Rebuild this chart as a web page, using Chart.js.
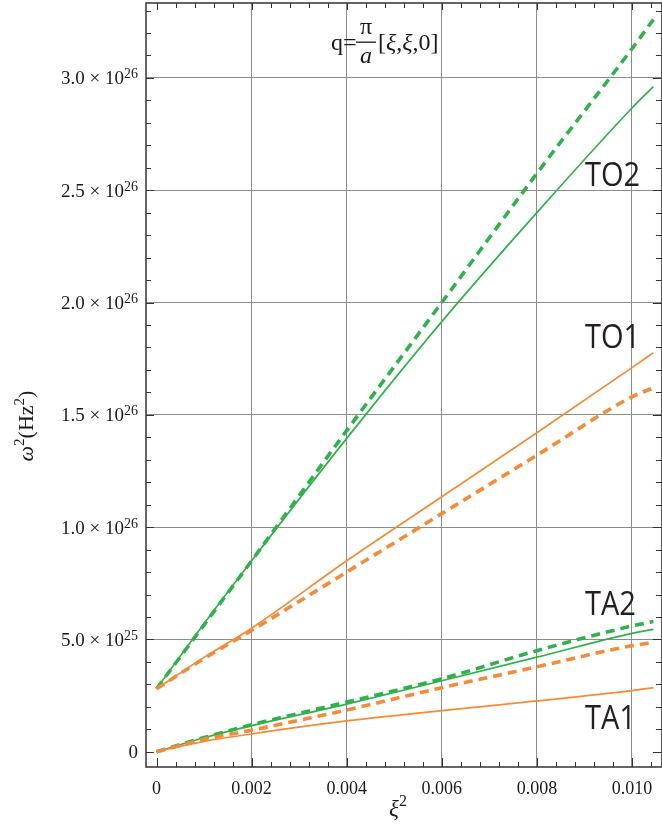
<!DOCTYPE html>
<html><head><meta charset="utf-8">
<script src="https://cdn.jsdelivr.net/npm/chart.js@4/dist/chart.umd.min.js"></script>
<style>html,body{margin:0;padding:0;background:#fff;}#wrap{width:662px;height:829px;position:relative;}</style>
</head><body><div id="wrap"><canvas id="c" width="662" height="829"></canvas></div>
<script>
// ---- data ----
const xi2 = [0, 0.001, 0.002, 0.004, 0.006, 0.008, 0.010, 0.01045];
const TO2_solid  = [2.8e25, 5.7e25, 8.5e25, 1.395e26, 1.915e26, 2.40e26, 2.866e26, 2.961e26];
const TO2_dashed = [2.8e25, 5.65e25, 8.5e25, 1.43e26, 2.0e26, 2.575e26, 3.13e26, 3.26e26];
const TO1_solid  = [2.8e25, 4.2e25, 5.5e25, 8.5e25, 1.135e26, 1.42e26, 1.71e26, 1.776e26];
const TO1_dashed = [2.8e25, 4.15e25, 5.4e25, 8.0e25, 1.06e26, 1.32e26, 1.58e26, 1.62e26];
const TA2_solid  = [0, 6.2e24, 1.16e25, 2.12e25, 3.16e25, 4.21e25, 5.27e25, 5.45e25];
const TA2_dashed = [0, 6.3e24, 1.2e25, 2.21e25, 3.25e25, 4.5e25, 5.6e25, 5.8e25];
const TA1_dashed = [0, 5.5e24, 9.6e24, 1.86e25, 2.85e25, 3.78e25, 4.72e25, 4.86e25];
const TA1_solid  = [0, 4.6e24, 7.9e24, 1.37e25, 1.83e25, 2.26e25, 2.72e25, 2.85e25];

const xTickValues = [0, 0.002, 0.004, 0.006, 0.008, 0.010];
const xTickLabels = ['0', '0.002', '0.004', '0.006', '0.008', '0.010'];
const yTickValues = [0, 5e25, 1e26, 1.5e26, 2e26, 2.5e26, 3e26];
const yTickMantissa = ['0', '5.0 \u00d7 10', '1.0 \u00d7 10', '1.5 \u00d7 10', '2.0 \u00d7 10', '2.5 \u00d7 10', '3.0 \u00d7 10'];
const yTickExponent = ['', '25', '26', '26', '26', '26', '26'];
const curveLabels = ['TO2', 'TO1', 'TA2', 'TA1'];

const GREEN = '#2eb34b', ORANGE = '#f68a36';
const X_MIN = -0.000221, X_MAX = 0.01063, Y_MIN = -6.8e24, Y_MAX = 3.3335e26;
const X_MINOR = 0.0004, Y_MINOR = 1e25;

function pts(ys){ return xi2.map((x,i)=>({x:x, y:ys[i]})); }
function ds(ys, color, dashed){
  return {data: pts(ys), borderColor: color, borderWidth: dashed ? 3.6 : 1.7,
    borderDash: dashed ? [9,6] : [], pointRadius: 0, fill:false,
    cubicInterpolationMode:'monotone', borderCapStyle:'butt'};
}
function near(a,b,eps){ return Math.abs(a-b) < eps; }
function isMajorX(v){ const r = v/0.002; return near(r, Math.round(r), 1e-6); }
function isMajorY(v){ const r = v/5e25; return near(r, Math.round(r), 1e-6); }

const SERIF = '"Liberation Serif", "Times New Roman", serif';

const decor = {
  id:'decor',
  afterDraw(chart){
    const ctx = chart.ctx, ca = chart.chartArea;
    const xs = chart.scales.x, ys = chart.scales.y;
    ctx.save();
    // frame
    ctx.strokeStyle = '#333'; ctx.lineWidth = 1.5;
    ctx.strokeRect(ca.left, ca.top, ca.right-ca.left, ca.bottom-ca.top);
    // inward ticks
    ctx.lineWidth = 1; ctx.strokeStyle = '#333';
    ctx.beginPath();
    xs.ticks.forEach(t=>{
      const p = Math.round(xs.getPixelForValue(t.value))+0.5;
      const major = isMajorX(t.value);
      const lb = major ? 9 : 5, lt = major ? 7 : 5;
      ctx.moveTo(p, ca.bottom); ctx.lineTo(p, ca.bottom-lb);
      ctx.moveTo(p, ca.top); ctx.lineTo(p, ca.top+lt);
    });
    ys.ticks.forEach(t=>{
      const p = Math.round(ys.getPixelForValue(t.value))+0.5;
      const major = isMajorY(t.value);
      const l = major ? 8 : 5;
      ctx.moveTo(ca.left, p); ctx.lineTo(ca.left+l, p);
      ctx.moveTo(ca.right, p); ctx.lineTo(ca.right-l-1, p);
    });
    ctx.stroke();

    ctx.fillStyle = '#1a1a1a';
    // y tick labels with superscript exponents
    const xr = 138;
    yTickValues.forEach((v,i)=>{
      const p = ys.getPixelForValue(v);
      ctx.textAlign = 'right'; ctx.textBaseline = 'alphabetic';
      let ew = 0;
      if (yTickExponent[i]) {
        ctx.font = '14px ' + SERIF;
        ew = ctx.measureText(yTickExponent[i]).width;
        ctx.fillText(yTickExponent[i], xr, p + 0.5);
      }
      ctx.font = '19px ' + SERIF;
      ctx.fillText(yTickMantissa[i], xr - ew, p + 6.5);
    });

    // y axis title: omega^2 (Hz^2), rotated
    ctx.save();
    ctx.translate(33, 426);
    ctx.rotate(-Math.PI/2);
    const parts = [['\u03c9','italic 22px '+SERIF,0],['2','15px '+SERIF,-9],['(Hz','22px '+SERIF,0],['2','15px '+SERIF,-9],[')','22px '+SERIF,0]];
    let tw = 0; parts.forEach(p=>{ctx.font=p[1]; tw += ctx.measureText(p[0]).width;});
    let cx = -tw/2; ctx.textAlign='left';
    parts.forEach(p=>{ctx.font=p[1]; ctx.fillText(p[0], cx, p[2]); cx += ctx.measureText(p[0]).width;});
    ctx.restore();

    // x axis title: xi^2
    ctx.textAlign = 'left';
    ctx.font = 'italic 23px ' + SERIF;
    const w1 = ctx.measureText('\u03be').width;
    ctx.font = '16px ' + SERIF;
    const w2 = ctx.measureText('2').width;
    let sx = 398 - (w1+w2)/2;
    ctx.font = 'italic 23px ' + SERIF; ctx.fillText('\u03be', sx, 816);
    ctx.font = '16px ' + SERIF; ctx.fillText('2', sx + w1, 806);

    // title q = pi/a [xi, xi, 0]
    ctx.font = '24px ' + SERIF; ctx.textAlign = 'left';
    ctx.fillText('q=', 331, 50);
    ctx.textAlign = 'center';
    ctx.fillText('\u03c0', 366, 34);
    ctx.font = 'italic 24px ' + SERIF;
    ctx.fillText('a', 366, 63);
    ctx.fillRect(356, 41.5, 20, 1.3);
    let tx = 378; ctx.textAlign = 'left';
    [['[',0],['\u03be',1],[',',0],['\u03be',1],[',',0],['0',0],[']',0]].forEach(p=>{
      ctx.font = (p[1] ? 'italic ' : '') + '24px ' + SERIF;
      ctx.fillText(p[0], tx, 50); tx += ctx.measureText(p[0]).width;
    });

    // curve labels
    ctx.fillStyle = '#231f20';
    const lblY = [186, 347.5, 615, 729];
    curveLabels.forEach((s,i)=>{
      ctx.save();
      ctx.translate(585, lblY[i]);
      ctx.scale(0.88, 1);
      ctx.font = '33px "Open Sans", "Noto Sans", sans-serif';
      ctx.textAlign = 'left'; ctx.textBaseline = 'alphabetic';
      ctx.fillText(s, 0, 0);
      ctx.restore();
    });
    ctx.restore();
  }
};

new Chart(document.getElementById('c'), {
  type: 'line',
  data: { datasets: [
    ds(TA1_solid, ORANGE, false), ds(TA1_dashed, ORANGE, true),
    ds(TA2_solid, GREEN, false), ds(TA2_dashed, GREEN, true),
    ds(TO1_solid, ORANGE, false), ds(TO1_dashed, ORANGE, true),
    ds(TO2_solid, GREEN, false), ds(TO2_dashed, GREEN, true)
  ]},
  options: {
    responsive:false, animation:false, devicePixelRatio:1,
    layout:{padding:{top:3, left:0, right:0, bottom:0}},
    plugins:{legend:{display:false}, tooltip:{enabled:false}, title:{display:false}},
    scales:{
      x:{type:'linear', position:'bottom', min:X_MIN, max:X_MAX,
        afterBuildTicks(scale){ const t=[]; for(let k=0;k<=26;k++){ t.push({value: +(k*X_MINOR).toFixed(5)}); } scale.ticks = t; },
        afterFit(scale){ scale.height = 62; },
        border:{display:false},
        grid:{drawTicks:false, lineWidth:1,
          color(c){ const v=c.tick.value; return (isMajorX(v) && v>1e-9) ? '#8c8c8c' : 'rgba(0,0,0,0)'; }},
        ticks:{autoSkip:false, maxRotation:0, padding:11, color:'#1a1a1a',
          font:{family:'"Liberation Serif", serif', size:18},
          callback(v){ const i = xTickValues.findIndex(t=>near(t,v,1e-9)); return i>=0 ? xTickLabels[i] : ''; }}
      },
      y:{type:'linear', position:'left', min:Y_MIN, max:Y_MAX,
        afterBuildTicks(scale){ const t=[]; for(let k=0;k<=33;k++){ t.push({value:k*Y_MINOR}); } scale.ticks = t; },
        afterFit(scale){ scale.width = 146; },
        border:{display:false},
        grid:{drawTicks:false, lineWidth:1,
          color(c){ const v=c.tick.value; return (isMajorY(v) && v>1) ? '#8c8c8c' : 'rgba(0,0,0,0)'; }},
        ticks:{display:false}
      }
    }
  },
  plugins:[decor]
});
</script></body></html>
